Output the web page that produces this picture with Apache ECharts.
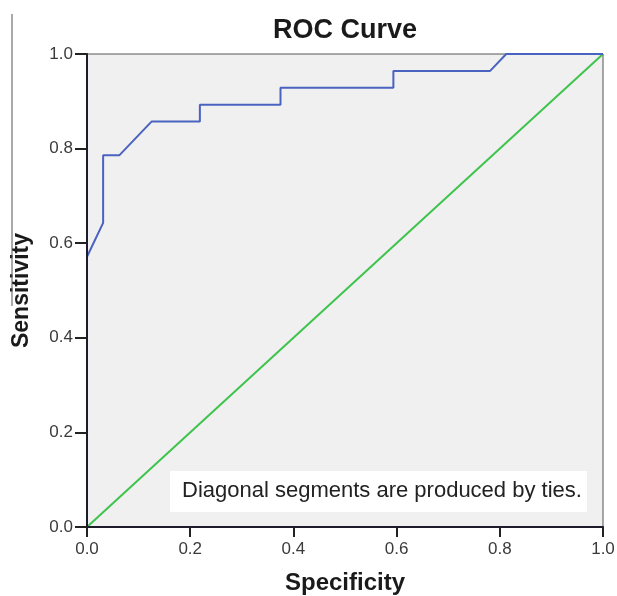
<!DOCTYPE html>
<html>
<head>
<meta charset="utf-8">
<script src="https://cdn.jsdelivr.net/npm/echarts@6/dist/echarts.min.js"></script>
<style>
  html, body { margin: 0; padding: 0; background: #fff; }
  #main { width: 617px; height: 596px; }
</style>
</head>
<body>
<div id="main"></div>
<script>
// ROC curve points (x = specificity axis, y = sensitivity)
var rocX = [0, 0, 0.03125, 0.03125, 0.0625, 0.125, 0.21875, 0.21875, 0.375, 0.375, 0.59375, 0.59375, 0.78125, 0.8125, 1];
var rocY = [0, 0.5714, 0.6429, 0.7857, 0.7857, 0.8571, 0.8571, 0.8929, 0.8929, 0.9286, 0.9286, 0.9643, 0.9643, 1, 1];
// reference line
var refX = [0, 1];
var refY = [0, 1];
var tickLabels = ['0.0', '0.2', '0.4', '0.6', '0.8', '1.0'];

var myChart = echarts.init(document.getElementById('main'));

function pairs(xs, ys) {
  return xs.map(function (x, i) { return [x, ys[i]]; });
}

var FONT = 'Liberation Sans, Arial, sans-serif';

var axisCommon = {
  type: 'value',
  min: 0,
  max: 1,
  interval: 0.2,
  z: 5,
  nameMoveOverlap: false,
  axisLine: { show: true, lineStyle: { color: '#1c1c2c', width: 2 } },
  axisTick: { show: true, length: 10, lineStyle: { color: '#222', width: 2 } },
  axisLabel: {
    color: '#3a3a3a',
    fontSize: 17,
    fontFamily: FONT,
    formatter: function (v) { return tickLabels[Math.round(v * 5)]; }
  },
  splitLine: { show: false },
  nameLocation: 'middle',
  nameTextStyle: {
    color: '#1a1a1a',
    fontSize: 23,
    fontWeight: 'bold',
    fontFamily: FONT
  }
};

var option = {
  animation: false,
  title: {
    text: 'ROC Curve',
    left: 340,
    top: 12,
    textAlign: 'center',
    textStyle: {
      color: '#1a1a1a',
      fontSize: 27,
      fontWeight: 'bold',
      fontFamily: FONT
    }
  },
  grid: {
    left: 87, right: 14, top: 54, bottom: 69,
    containLabel: false,
    outerBoundsMode: 'none',
    show: true,
    backgroundColor: '#f0f0f0',
    borderColor: '#555',
    borderWidth: 1
  },
  xAxis: Object.assign({}, axisCommon, {
    name: 'Specificity',
    nameGap: 44,
    nameTextStyle: Object.assign({}, axisCommon.nameTextStyle, { fontSize: 24 }),
    axisLabel: Object.assign({}, axisCommon.axisLabel, { margin: 14 })
  }),
  yAxis: Object.assign({}, axisCommon, {
    name: 'Sensitivity',
    nameGap: 54,
    axisTick: { show: true, length: 12, lineStyle: { color: '#222', width: 2 } },
    axisLabel: Object.assign({}, axisCommon.axisLabel, { margin: 14 })
  }),
  series: [
    {
      type: 'line',
      data: pairs(rocX, rocY),
      symbol: 'none',
      lineStyle: { color: '#4a62c0', width: 2 },
      z: 3
    },
    {
      type: 'line',
      data: pairs(refX, refY),
      symbol: 'none',
      lineStyle: { color: '#3ec44c', width: 2 },
      z: 2
    }
  ],
  graphic: [
    {
      type: 'rect',
      shape: { x: 170, y: 471, width: 417, height: 41 },
      style: { fill: '#ffffff' },
      z: 10
    },
    {
      type: 'text',
      x: 182, y: 491,
      style: {
        text: 'Diagonal segments are produced by ties.',
        fill: '#222',
        font: '22px "Liberation Sans", Arial, sans-serif',
        verticalAlign: 'middle'
      },
      z: 11
    },
    {
      type: 'line',
      shape: { x1: 12, y1: 14, x2: 12, y2: 306 },
      style: { stroke: '#555', lineWidth: 1 },
      z: 10
    }
  ]
};

myChart.setOption(option);
</script>
</body>
</html>
